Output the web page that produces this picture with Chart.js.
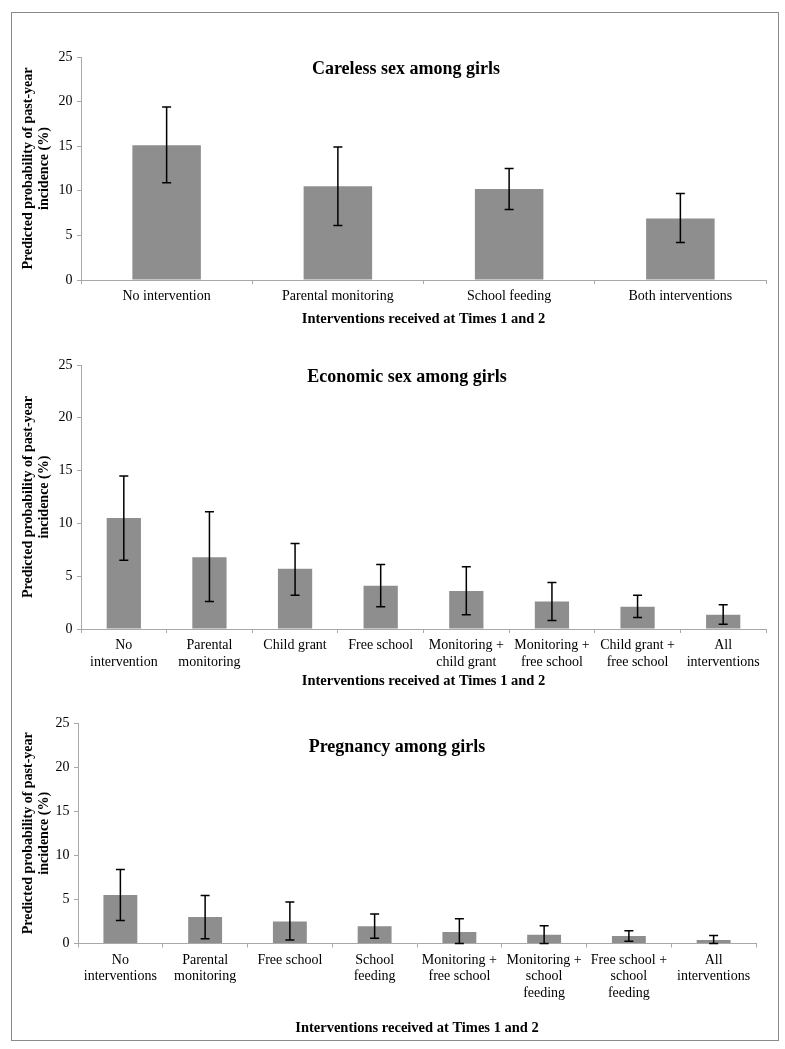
<!DOCTYPE html>
<html>
<head>
<meta charset="utf-8">
<script src="https://cdn.jsdelivr.net/npm/chart.js@4.4.1/dist/chart.umd.min.js"></script>
<style>
  html, body { margin: 0; padding: 0; background: #ffffff; }
  body { width: 785px; height: 1049px; position: relative; overflow: hidden; }
  .panel { position: absolute; left: 0; width: 785px; }
  #frame { position: absolute; left: 11px; top: 12px; width: 766px; height: 1027px; border: 1px solid #8a8a8a; pointer-events: none; }
</style>
</head>
<body>
<div class="panel" style="top:12px;height:318px;"><canvas id="c1"></canvas></div>
<div class="panel" style="top:330px;height:360px;"><canvas id="c2"></canvas></div>
<div class="panel" style="top:690px;height:350px;"><canvas id="c3"></canvas></div>
<div id="frame"></div>
<script>
// ---------- DATA ----------
const yTicks = [0, 5, 10, 15, 20, 25];

const carelessTitle = 'Careless sex among girls';
const carelessLabels = ['No intervention', 'Parental monitoring', 'School feeding', 'Both interventions'];
const carelessValues = [15.1, 10.5, 10.2, 6.9];
const carelessLower  = [10.9, 6.1, 7.9, 4.2];
const carelessUpper  = [19.4, 14.9, 12.5, 9.7];

const economicTitle = 'Economic sex among girls';
const economicLabels = [['No', 'intervention'], ['Parental', 'monitoring'], 'Child grant', 'Free school',
  ['Monitoring +', 'child grant'], ['Monitoring +', 'free school'], ['Child grant +', 'free school'], ['All', 'interventions']];
const economicValues = [10.5, 6.8, 5.7, 4.1, 3.6, 2.6, 2.1, 1.35];
const economicLower  = [6.5, 2.6, 3.2, 2.1, 1.35, 0.8, 1.1, 0.45];
const economicUpper  = [14.5, 11.1, 8.1, 6.1, 5.9, 4.4, 3.2, 2.3];

const pregnancyTitle = 'Pregnancy among girls';
const pregnancyLabels = [['No', 'interventions'], ['Parental', 'monitoring'], 'Free school', ['School', 'feeding'],
  ['Monitoring +', 'free school'], ['Monitoring +', 'school', 'feeding'], ['Free school +', 'school', 'feeding'], ['All', 'interventions']];
const pregnancyValues = [5.5, 3.0, 2.5, 1.95, 1.3, 1.0, 0.85, 0.4];
const pregnancyLower  = [2.6, 0.55, 0.4, 0.6, 0, 0, 0.25, 0];
const pregnancyUpper  = [8.4, 5.45, 4.7, 3.35, 2.8, 2.0, 1.45, 0.9];

const yAxisTitle = ['Predicted probability of past-year', 'incidence (%)'];
const xAxisTitle = 'Interventions received at Times 1 and 2';

// ---------- STYLE ----------
const SERIF = '"Liberation Serif", "Times New Roman", Times, serif';
const BAR_COLOR = '#8e8e8e';
const AXIS_COLOR = '#a8a8a8';

const errorBarPlugin = {
  id: 'errorBars',
  afterDatasetsDraw(chart, args, opts) {
    const ctx = chart.ctx;
    const meta = chart.getDatasetMeta(0);
    const yScale = chart.scales.y;
    ctx.save();
    ctx.strokeStyle = '#000';
    ctx.lineWidth = 1.5;
    meta.data.forEach((bar, i) => {
      const x = bar.x;
      const yLo = yScale.getPixelForValue(opts.lower[i]);
      const yHi = yScale.getPixelForValue(opts.upper[i]);
      const cap = 4.5;
      ctx.beginPath();
      ctx.moveTo(x, yLo); ctx.lineTo(x, yHi);
      ctx.moveTo(x - cap, yHi); ctx.lineTo(x + cap, yHi);
      ctx.moveTo(x - cap, yLo); ctx.lineTo(x + cap, yLo);
      ctx.stroke();
    });
    ctx.restore();
  }
};

const panelTitlePlugin = {
  id: 'panelTitle',
  afterDraw(chart, args, opts) {
    const ctx = chart.ctx;
    const a = chart.chartArea;
    ctx.save();
    ctx.font = 'bold 18px ' + SERIF;
    ctx.fillStyle = '#000';
    ctx.textAlign = 'center';
    ctx.textBaseline = 'middle';
    ctx.fillText(opts.text, (a.left + a.right) / 2 + opts.dx, a.top + opts.dy);
    ctx.restore();
  }
};

function makeChart(id, cfg) {
  return new Chart(document.getElementById(id), {
    type: 'bar',
    data: {
      labels: cfg.labels,
      datasets: [{
        data: cfg.values,
        backgroundColor: BAR_COLOR,
        borderWidth: 0,
        barPercentage: 0.4,
        categoryPercentage: 1.0
      }]
    },
    options: {
      responsive: true,
      maintainAspectRatio: false,
      animation: false,
      devicePixelRatio: 1,
      layout: { padding: { top: cfg.padTop, right: cfg.padRight, bottom: 0, left: 0 } },
      plugins: {
        legend: { display: false },
        tooltip: { enabled: false },
        title: { display: false },
        errorBars: { lower: cfg.lower, upper: cfg.upper },
        panelTitle: { text: cfg.title, dx: cfg.titleDx, dy: cfg.titleDy }
      },
      scales: {
        x: {
          type: 'category',
          offset: true,
          grid: { display: true, offset: true, drawOnChartArea: false, drawTicks: true, tickLength: 4, color: AXIS_COLOR },
          border: { display: true, color: AXIS_COLOR, width: 1 },
          ticks: {
            autoSkip: false, maxRotation: 0, minRotation: 0, padding: 4,
            color: '#000', font: { family: SERIF, size: 14 }
          },
          title: {
            display: true, text: xAxisTitle, color: '#000',
            font: { family: SERIF, size: 14.5, weight: 'bold' },
            padding: { top: 0, bottom: cfg.xTitlePad }
          },
          afterFit(scale) { scale.height = cfg.xHeight; }
        },
        y: {
          min: 0, max: 25,
          afterBuildTicks(scale) { scale.ticks = yTicks.map(v => ({ value: v })); },
          grid: { display: true, drawOnChartArea: false, drawTicks: true, tickLength: 4, color: AXIS_COLOR },
          border: { display: true, color: AXIS_COLOR, width: 1 },
          ticks: { padding: 4.5, color: '#000', font: { family: SERIF, size: 14 } },
          title: {
            display: true, text: yAxisTitle, color: '#000',
            font: { family: SERIF, size: 14, weight: 'bold', lineHeight: 1.15 },
            padding: { top: 20, bottom: 0 }
          },
          afterFit(scale) { scale.width = cfg.yWidth; }
        }
      }
    },
    plugins: [errorBarPlugin, panelTitlePlugin]
  });
}

makeChart('c1', {
  labels: carelessLabels, values: carelessValues, lower: carelessLower, upper: carelessUpper,
  title: carelessTitle, titleDx: -17.5, titleDy: 12,
  padTop: 45, padRight: 19, yWidth: 81, xHeight: 50, xTitlePad: 2.4
});
makeChart('c2', {
  labels: economicLabels, values: economicValues, lower: economicLower, upper: economicUpper,
  title: economicTitle, titleDx: -16.5, titleDy: 12,
  padTop: 35, padRight: 19, yWidth: 81, xHeight: 61, xTitlePad: 0
});
makeChart('c3', {
  labels: pregnancyLabels, values: pregnancyValues, lower: pregnancyLower, upper: pregnancyUpper,
  title: pregnancyTitle, titleDx: -20, titleDy: 24,
  padTop: 33, padRight: 29, yWidth: 78, xHeight: 96.5, xTitlePad: 3.4
});
</script>
</body>
</html>
